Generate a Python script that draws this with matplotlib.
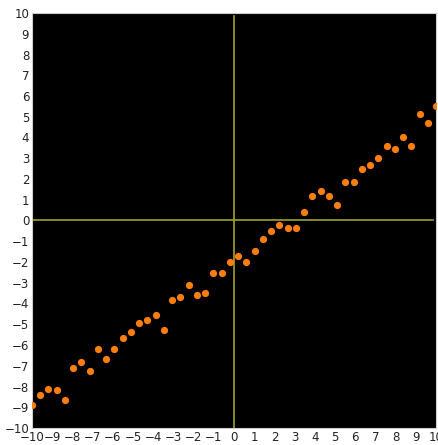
import numpy as np
import matplotlib
matplotlib.use("Agg")
import matplotlib.pyplot as plt

x = np.linspace(-10, 10, 50)
y = [-8.87, -8.39, -8.10, -8.19, -8.63, -7.10, -6.83, -7.23, -6.17, -6.68,
     -6.17, -5.64, -5.38, -4.93, -4.79, -4.55, -5.30, -3.84, -3.71, -3.10,
     -3.58, -3.47, -2.54, -2.51, -2.01, -1.69, -2.01, -1.49, -0.88, -0.53,
     -0.24, -0.37, -0.34, 0.40, 1.16, 1.40, 1.19, 0.76, 1.85, 1.85,
     2.46, 2.67, 3.02, 3.57, 3.44, 4.01, 3.58, 5.14, 4.71, 5.54]
ticks = list(range(-10, 11))

fig = plt.figure(figsize=(4.38, 4.45), dpi=100)
ax = fig.add_axes([32/438, 1-428/445, 404/438, 415/445])
ax.set_facecolor('black')
ax.plot([-10, 9.85], [0, 0], color='#a0a02a', lw=1.2, zorder=1)
ax.plot([0, 0], [-10, 9.85], color='#a0a02a', lw=1.2, zorder=1)
ax.plot(x, y, 'o', color='#ff7f0e', ms=5.2, mec='none', zorder=3, clip_on=True)
ax.set_xlim(-10, 10)
ax.set_ylim(-10, 10)
ax.set_xticks(ticks)
ax.set_yticks(ticks)
ax.tick_params(labelsize=8.5, length=0, pad=2, colors='#222222')
for s in ax.spines.values():
    s.set_color('#cccccc')
    s.set_linewidth(0.8)
fig.savefig('out.png', dpi=100, facecolor='white')
